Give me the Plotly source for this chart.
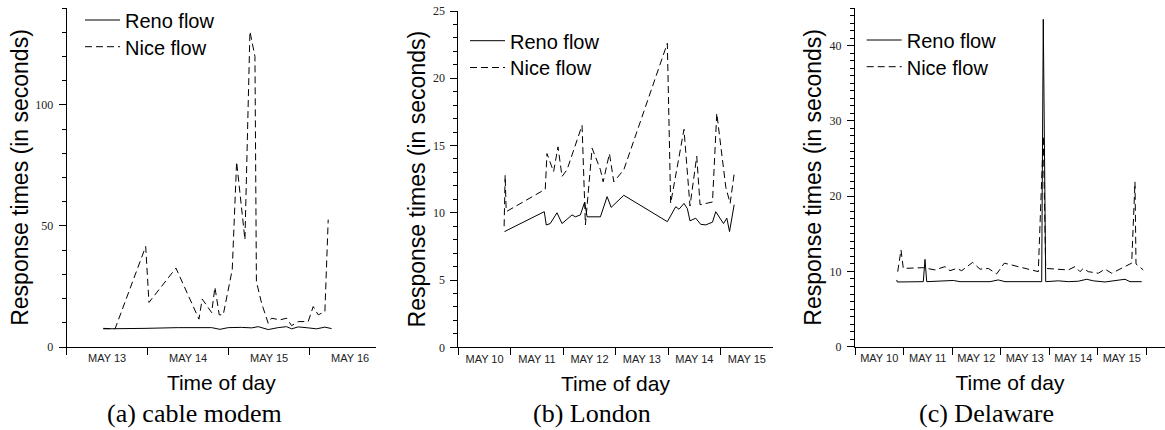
import plotly.graph_objects as go

Y = "2003-05-"

# ---------------- (a) cable modem ----------------
a_reno_time = ["13 10:50", "13 14:19", "13 23:12", "14 09:04", "14 16:00", "14 18:58", "14 21:25",
               "14 23:53", "15 03:50", "15 06:49", "15 08:46", "15 11:44", "15 14:41", "15 17:11",
               "15 18:40", "15 20:37", "15 23:35", "16 02:04", "16 04:32", "16 06:31"]
a_reno_resp = [7.5, 7.5, 7.7, 8.0, 8.1, 8.0, 7.3, 8.0, 8.1, 7.9, 8.4, 7.2, 8.0, 8.4, 7.5, 8.3,
               7.9, 7.5, 8.2, 7.6]
a_nice_time = ["13 10:50", "13 14:20", "13 23:25", "14 00:23", "14 08:23", "14 15:12", "14 16:10",
               "14 18:58", "14 19:56", "14 21:13", "14 22:24", "15 01:04", "15 02:22", "15 04:50",
               "15 06:19", "15 07:48", "15 08:14", "15 09:46", "15 11:44", "15 12:44", "15 15:12",
               "15 17:11", "15 18:40", "15 20:37", "15 23:35", "16 01:04", "16 02:33", "16 04:32",
               "16 05:31"]
a_nice_resp = [7.7, 7.5, 41.5, 18.4, 32.6, 11.5, 19.8, 14.2, 24.7, 13.3, 13.3, 31.9, 76.5, 44.3,
               130.3, 120, 27, 18.1, 9.8, 11.9, 11.2, 11.9, 8.8, 10.5, 10.5, 16.7, 13.3, 14.6, 52.6]

# ---------------- (b) London ----------------
b_reno_time = ["10 21:07", "11 15:20", "11 16:15", "11 18:04", "11 21:09", "11 23:27", "12 04:02",
               "12 05:33", "12 07:51", "12 09:49", "12 10:55", "12 17:01", "12 20:05", "12 21:56",
               "13 03:43", "13 23:38", "14 03:28", "14 04:58", "14 07:15", "14 08:48", "14 10:00",
               "14 12:37", "14 14:54", "14 17:12", "14 20:17", "14 21:47", "15 01:19", "15 02:51",
               "15 04:05", "15 06:12"]
b_reno_resp = [8.6, 10.08, 9.09, 9.2, 10.0, 9.2, 9.84, 9.7, 9.84, 10.8, 9.7, 9.7, 11.2, 10.4, 11.3,
               9.34, 10.45, 10.26, 10.7, 10.3, 9.4, 9.6, 9.14, 9.1, 9.3, 10.08, 9.2, 9.6, 8.6, 10.6]
b_nice_time = ["10 20:58", "10 21:26", "10 21:53", "10 22:07", "11 15:47", "11 16:34", "11 19:35",
               "11 21:37", "11 23:27", "12 01:45", "12 08:37", "12 10:09", "12 13:13", "12 17:01",
               "12 18:16", "12 21:09", "12 23:08", "13 03:43", "13 23:38", "14 01:09", "14 07:15",
               "14 10:00", "14 13:05", "14 14:36", "14 20:17", "14 22:15", "15 02:23", "15 04:22",
               "15 06:12"]
b_nice_resp = [9.0, 12.8, 10.3, 10.1, 11.75, 14.4, 13.06, 14.9, 12.7, 13.2, 16.5, 9.1, 14.8, 13.2,
               12.3, 14.4, 12.3, 13.2, 22.6, 10.7, 16.2, 10.5, 14.2, 10.6, 10.8, 17.4, 11.9, 10.7, 12.9]

# ---------------- (c) Delaware ----------------
c_reno_time = ["10 20:38", "10 20:56", "11 09:48", "11 10:38", "11 11:29", "12 00:39", "12 03:58",
               "12 18:48", "12 22:55", "13 02:14", "13 20:23", "13 21:10", "13 22:22", "14 04:36",
               "14 09:33", "14 14:30", "14 18:39", "14 21:55", "15 03:43", "15 13:36", "15 16:05",
               "15 21:52"]
c_reno_resp = [8.87, 8.6, 8.64, 11.6, 8.64, 8.8, 8.64, 8.64, 8.87, 8.64, 8.64, 43.5, 8.64, 8.75,
               8.64, 8.7, 8.96, 8.75, 8.6, 8.96, 8.64, 8.64]
c_nice_time = ["10 21:08", "10 22:46", "10 23:54", "11 09:48", "11 15:35", "11 20:32", "11 23:01",
               "12 02:20", "12 04:48", "12 10:14", "12 13:51", "12 17:57", "12 22:07", "13 01:52",
               "13 18:42", "13 21:10", "13 22:22", "14 04:36", "14 09:33", "14 12:52", "14 15:20",
               "14 16:58", "14 19:26", "15 00:23", "15 03:43", "15 07:02", "15 11:58", "15 16:55",
               "15 18:33", "15 19:03", "15 22:39"]
c_nice_resp = [9.97, 12.86, 10.4, 10.5, 10.2, 10.64, 10.1, 10.4, 10.1, 11.2, 10.3, 10.4, 9.67, 11.1,
               9.97, 28, 10.4, 10.3, 10.2, 10.64, 9.97, 10.4, 9.97, 9.76, 10.3, 9.76, 10.4, 11.1,
               21.9, 11.0, 10.2]

series_names = ["Reno flow", "Nice flow"]
x_ranges = [[Y + "13 00:00", Y + "16 19:41"],
            [Y + "10 00:00", Y + "15 23:50"],
            [Y + "10 00:00", Y + "16 09:24"]]
y_ranges = [[0, 140], [0, 25], [0, 45]]
y_major = [50, 5, 10]
y_minor = [10, 1, 1]
captions = ["(a) cable modem", "(b) London", "(c) Delaware"]

panels = [
    (a_reno_time, a_reno_resp, a_nice_time, a_nice_resp),
    (b_reno_time, b_reno_resp, b_nice_time, b_nice_resp),
    (c_reno_time, c_reno_resp, c_nice_time, c_nice_resp),
]

W, H = 1165, 430
x_dom = [[66.7 / W, 376 / W], [458.3 / W, 772.7 / W], [855 / W, 1.0]]
y_dom = [[1 - 347 / H, 1 - 8 / H], [1 - 347.3 / H, 1 - 11 / H], [1 - 346.7 / H, 1 - 8 / H]]
leg_left = [80, 465, 861.7]
leg_rows = [(20, 46.7), (40.7, 67.5), (40, 66.7)]
cap_x = [194.3 / W, 591.7 / W, 986.7 / W]
y_standoff = [0, 0, 1]

SANS = "Liberation Sans, Arial, sans-serif"
SERIF = "Liberation Serif, Times New Roman, serif"

fig = go.Figure()
layout = dict(width=W, height=H, margin=dict(l=0, r=0, t=0, b=0, autoexpand=False),
              paper_bgcolor="white", plot_bgcolor="white", showlegend=True, annotations=[])

leg_no = 0
for i, (rt, rv, nt, nv) in enumerate(panels):
    sfx = "" if i == 0 else str(i + 1)
    for k, (tt, vv) in enumerate([(rt, rv), (nt, nv)]):
        leg_no += 1
        leg = "legend" if leg_no == 1 else "legend%d" % leg_no
        line = dict(color="black", width=1)
        if k == 1:
            line["dash"] = "7px,4px"
        fig.add_trace(go.Scatter(x=[Y + t for t in tt], y=vv, mode="lines", name=series_names[k],
                                 line=line, xaxis="x" + sfx, yaxis="y" + sfx, legend=leg,
                                 showlegend=True))
        layout[leg] = dict(x=leg_left[i] / W, y=1 - leg_rows[i][k] / H, xanchor="left",
                           yanchor="middle", bgcolor="rgba(0,0,0,0)", borderwidth=0,
                           itemwidth=35, font=dict(family=SANS, size=20, color="black"),
                           visible=True)
    layout["xaxis" + sfx] = dict(
        domain=x_dom[i], anchor="y" + sfx, type="date", range=x_ranges[i], automargin=False,
        tick0=Y + "10", dtick=86400000, tickformat="MAY %d", ticklabelmode="period",
        ticks="outside", ticklen=7, tickcolor="black", showline=True, linecolor="black",
        linewidth=1, showgrid=False, zeroline=False, ticklabelstandoff=-6,
        tickfont=dict(family=SANS, size=11, color="#222"),
        title=dict(text="Time of day", font=dict(family=SANS, size=21, color="black"), standoff=12))
    layout["yaxis" + sfx] = dict(
        domain=y_dom[i], anchor="x" + sfx, range=y_ranges[i], tick0=0, dtick=y_major[i],
        automargin=False, ticklabelstandoff=3,
        ticks="outside", ticklen=7, tickcolor="black", showline=True, linecolor="black",
        linewidth=1, showgrid=False, zeroline=False,
        minor=dict(dtick=y_minor[i], tick0=0, ticks="outside", ticklen=4, tickcolor="black",
                   showgrid=False),
        tickfont=dict(family=SERIF, size=12, color="#222"),
        title=dict(text="Response times (in seconds)",
                   font=dict(family=SANS, size=23, color="black"), standoff=y_standoff[i]))
    layout["annotations"].append(dict(text=captions[i], x=cap_x[i], y=1 - 413 / H, xref="paper",
                                      yref="paper", showarrow=False, xanchor="center",
                                      yanchor="middle",
                                      font=dict(family=SERIF, size=26, color="black")))

fig.update_layout(**layout)
fig.write_html("out.html", config={"displayModeBar": False},
               post_script="document.body.style.margin='0';document.body.style.overflow='hidden';")
